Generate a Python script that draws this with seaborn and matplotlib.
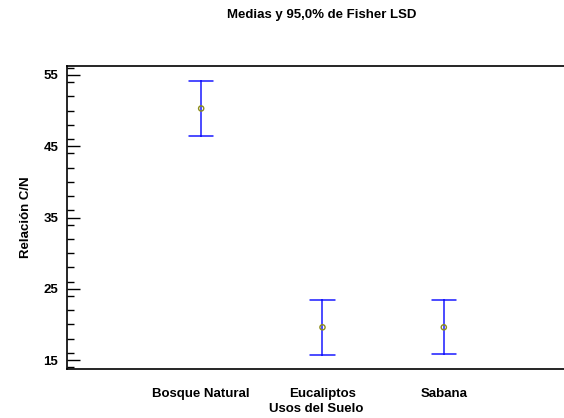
import matplotlib
matplotlib.use("Agg")
import matplotlib.pyplot as plt
import seaborn as sns
import pandas as pd
from matplotlib.ticker import MultipleLocator
from matplotlib import font_manager

categories = ["Bosque Natural", "Eucaliptos", "Sabana"]
means = [50.3, 19.6, 19.6]
lower = [46.4, 15.7, 15.8]
upper = [54.2, 23.4, 23.4]

sns.set_theme(style="white")
names = {f.name for f in font_manager.fontManager.ttflist}
fam = "Liberation Sans Narrow" if "Liberation Sans Narrow" in names else "Liberation Sans"
plt.rcParams["font.family"] = [fam, "DejaVu Sans"]
plt.rcParams["text.color"] = "black"
plt.rcParams["axes.labelcolor"] = "black"
plt.rcParams["xtick.color"] = "black"
plt.rcParams["ytick.color"] = "black"

rows = []
for c, lo, m, hi in zip(categories, lower, means, upper):
    for v in (lo, m, hi):
        rows.append({"Uso": c, "CN": v})
df = pd.DataFrame(rows)
dm = pd.DataFrame({"Uso": categories, "CN": means})

fig = plt.figure(figsize=(5.64, 4.18), dpi=100)
ax = fig.add_axes([66.5 / 564, 1 - 369 / 418, 1 - 66.5 / 564 + 0.002, (369 - 65.7) / 418])

sns.pointplot(data=df, x="Uso", y="CN", estimator="median", errorbar=("pi", 100),
              color="#1a1aff", markers="", linestyles="none", capsize=0.2,
              err_kws={"linewidth": 1.1}, ax=ax)
sns.scatterplot(data=dm, x="Uso", y="CN", marker="o", s=14, facecolor="none",
                edgecolor="#8c8c1a", linewidth=1.0, ax=ax, zorder=5)

ax.set_xlim(-1.11, 3.0)
ax.set_ylim(13.75, 56.3)
ax.yaxis.set_major_locator(MultipleLocator(10))
ax.yaxis.set_minor_locator(MultipleLocator(2))
ax.set_yticks([15, 25, 35, 45, 55])
ax.tick_params(axis="y", which="major", direction="in", length=9, width=1, left=True,
               labelsize=9.5, pad=6, colors="black")
ax.tick_params(axis="y", which="minor", direction="in", length=5, width=1, left=True)
ax.tick_params(axis="x", bottom=False, labelsize=9.5, pad=8, colors="black")
for lab in ax.get_yticklabels() + ax.get_xticklabels():
    lab.set_fontweight("bold")

for s in ["top", "bottom", "left"]:
    ax.spines[s].set_color("black")
    ax.spines[s].set_linewidth(1.2)
ax.spines["right"].set_visible(False)

ax.set_xlabel("Usos del Suelo", fontsize=9.5, fontweight="bold", labelpad=2, color="black")
ax.set_ylabel("Relación C/N", fontsize=9.5, fontweight="bold", labelpad=8, color="black")
fig.text(322 / 564, 1 - 15 / 418, "Medias y 95,0% de Fisher LSD", ha="center", va="center",
         fontsize=9.5, fontweight="bold", color="black")

fig.savefig("out.png", dpi=100)
